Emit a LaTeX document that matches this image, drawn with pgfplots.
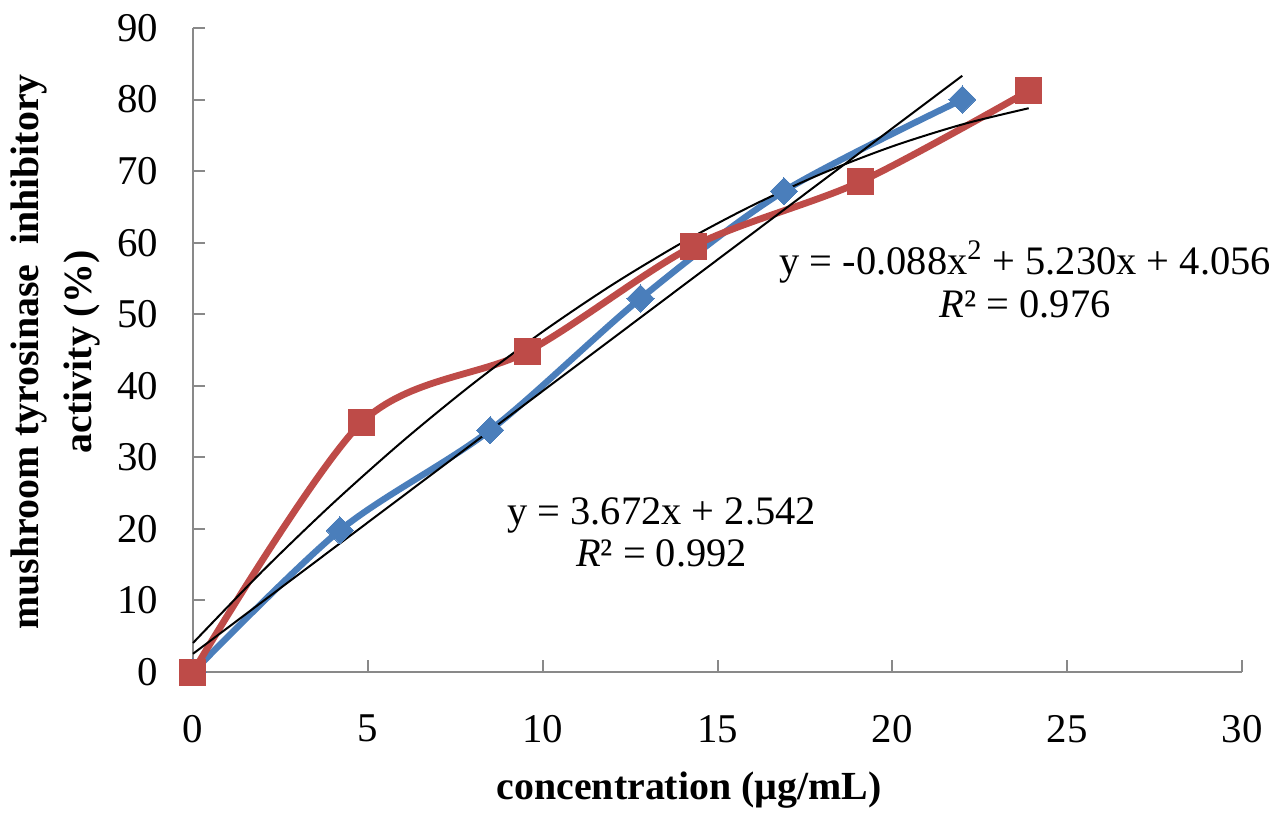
\documentclass[border=0pt]{standalone}
\usepackage{pgfplots}
\pgfplotsset{compat=1.18}
\usepackage{fontspec}
\setmainfont{Liberation Serif}
\definecolor{xblue}{HTML}{4A7EBB}
\definecolor{xred}{HTML}{BE4B48}
\definecolor{axgray}{HTML}{898989}
\begin{document}
\begin{tikzpicture}
\begin{axis}[
  name=ax,
  scale only axis, width=524.5bp, height=322bp,
  xmin=0, xmax=30, ymin=0, ymax=90,
  xtick={0,5,...,30}, ytick={0,10,...,90},
  axis x line*=bottom, axis y line*=left,
  axis line style={-, draw=axgray, line width=1bp},
  tick align=inside, major tick length=6bp,
  tick style={draw=axgray, line width=1bp},
  /pgf/number format/assume math mode=true,
  ticklabel style={font=\fontsize{20.5}{24}\selectfont},
  xticklabel style={yshift=-18bp},
  yticklabel style={xshift=-14bp},
  xlabel={\textbf{concentration (µg/mL)}},
  xlabel style={font=\fontsize{20}{24}\selectfont, at={(axis description cs:0.473,0)}, anchor=center, yshift=-59bp},
  ylabel={\textbf{mushroom tyrosinase\ \ inhibitory}\\\textbf{activity (\%)}},
  ylabel style={font=\fontsize{20}{26.5}\selectfont, align=center, at={(axis description cs:-0.131,0.497)}, anchor=center},
  clip=false,
]
\addplot[color=xblue, line width=3.2bp, smooth, tension=0.5, mark=square*, mark size=4.8bp, mark options={rotate=45, fill=xblue, draw=xblue, line width=0pt}]
coordinates {(0,0) (4.2,19.8) (8.5,33.8) (12.8,52.2) (16.9,67.2) (22.0,80.0)};
\addplot[color=xred, line width=3.4bp, smooth, tension=0.5, mark=square*, mark size=6.5bp, mark options={fill=xred, draw=xred, line width=0pt}]
coordinates {(0,0) (4.83,34.9) (9.57,44.8) (14.3,59.5) (19.08,68.5) (23.9,81.2)};
\addplot[black, line width=1bp] coordinates {(0,2.542) (22,83.326)};
\addplot[black, line width=1bp, smooth] coordinates {
(0,4.056) (2,14.164) (4,23.568) (6,32.268) (8,40.264) (10,47.556) (12,54.144)
(14,60.028) (16,65.208) (18,69.684) (20,73.456) (22,76.524) (23.9,78.787)};
\node[font=\fontsize{20.3}{21.5}\selectfont, align=center] at (axis cs:13.4,19.5) {y = 3.672x + 2.542\\\textit{R}² = 0.992};
\node[font=\fontsize{20.3}{21.5}\selectfont, align=center] at (axis cs:23.8,54.9) {y = -0.088x\textsuperscript{2} + 5.230x + 4.056\\\textit{R}² = 0.976};
\end{axis}
\pgfresetboundingbox
\path ([xshift=-96.5bp, yshift=-76.5bp]ax.south west) rectangle ([xshift=22.5bp, yshift=14bp]ax.north east);
\end{tikzpicture}
\end{document}
